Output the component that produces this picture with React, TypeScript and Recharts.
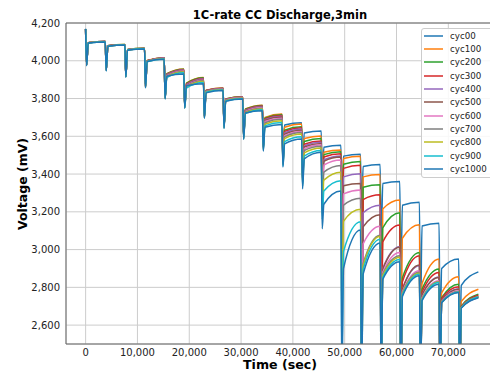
import React from "react";
import { LineChart, Line, XAxis, YAxis, CartesianGrid, ReferenceLine, Legend } from "recharts";

const FONT = "'DejaVu Sans', 'Liberation Sans', sans-serif";

const CYCLES = ["cyc00", "cyc100", "cyc200", "cyc300", "cyc400", "cyc500", "cyc600", "cyc700", "cyc800", "cyc900", "cyc1000"];
const COLORS = ["#1f77b4", "#ff7f0e", "#2ca02c", "#d62728", "#9467bd", "#8c564b", "#e377c2", "#7f7f7f", "#bcbd22", "#17becf", "#1f77b4"];

// start time of each 3 min pulse (sec) and end of the last rest
const PULSE_T = [0, 3790, 7580, 11370, 15160, 18950, 22740, 26530, 30320, 34110, 37900, 41690, 45480, 49270, 53060, 56850, 60640, 64430, 68220, 72010];
const END_T = 75800;
const PULSE_LEN = 180;
const KNEE_LAG = 500;

const X_TICKS = [0, 10000, 20000, 30000, 40000, 50000, 60000, 70000];
const Y_TICKS = [2600, 2800, 3000, 3200, 3400, 3600, 3800, 4000, 4200];

// voltage at start + at the end of every rest (mV)
const REST_00 = [4168, 4102, 4085, 4065, 4014, 3950, 3900, 3852, 3806, 3755, 3715, 3672, 3628, 3553, 3505, 3450, 3360, 3251, 3140, 2950, 2882];
const REST_100 = [4168, 4102, 4086, 4066, 4016, 3957, 3912, 3856, 3810, 3765, 3718, 3665, 3602, 3528, 3494, 3398, 3262, 3131, 2950, 2856, 2790];
const REST_200 = [4168, 4102, 4086, 4066, 4015, 3955, 3910, 3855, 3809, 3763, 3714, 3650, 3588, 3518, 3466, 3343, 3195, 2985, 2897, 2817, 2764];
const REST_300 = [4168, 4102, 4085, 4065, 4015, 3953, 3906, 3854, 3808, 3760, 3710, 3645, 3575, 3508, 3446, 3290, 3130, 2968, 2879, 2803, 2758];
const REST_400 = [4168, 4102, 4085, 4065, 4014, 3951, 3903, 3853, 3807, 3758, 3706, 3638, 3568, 3496, 3402, 3235, 3015, 2914, 2855, 2792, 2752];
const REST_500 = [4168, 4102, 4085, 4064, 4014, 3949, 3900, 3852, 3806, 3755, 3702, 3632, 3562, 3490, 3350, 3184, 3012, 2918, 2852, 2790, 2752];
const REST_600 = [4168, 4101, 4084, 4064, 4013, 3946, 3897, 3850, 3805, 3752, 3696, 3625, 3555, 3475, 3315, 3123, 2985, 2888, 2835, 2782, 2746];
const REST_700 = [4168, 4101, 4084, 4064, 4012, 3943, 3894, 3849, 3803, 3749, 3690, 3620, 3547, 3445, 3272, 3076, 2968, 2880, 2830, 2778, 2748];
const REST_800 = [4168, 4101, 4084, 4063, 4011, 3940, 3890, 3847, 3801, 3745, 3682, 3612, 3538, 3410, 3213, 3070, 2960, 2875, 2828, 2776, 2750];
const REST_900 = [4168, 4100, 4083, 4063, 4010, 3936, 3885, 3845, 3799, 3740, 3673, 3598, 3525, 3365, 3147, 3055, 2948, 2870, 2826, 2775, 2750];
const REST_1000 = [4170, 4100, 4083, 4062, 4008, 3930, 3878, 3842, 3797, 3735, 3663, 3586, 3515, 3310, 3104, 3035, 2935, 2861, 2817, 2773, 2745];

// lowest voltage at the end of every pulse (mV)
const DIP_00 = [3980, 3952, 3920, 3866, 3808, 3762, 3710, 3658, 3605, 3560, 3500, 3420, 3330, 3250, 3150, 3000, 2800, 2600, 2520, 2420];
const DIP_100 = [3979, 3951, 3919, 3865, 3807, 3760, 3708, 3656, 3602, 3552, 3485, 3400, 3300, 3220, 2400, 2250, 2250, 2250, 2250, 2250];
const DIP_200 = [3979, 3951, 3919, 3865, 3806, 3759, 3707, 3655, 3600, 3548, 3478, 3390, 3290, 3180, 2250, 2250, 2250, 2250, 2250, 2250];
const DIP_300 = [3978, 3950, 3918, 3864, 3805, 3758, 3706, 3653, 3598, 3545, 3472, 3380, 3280, 3150, 2250, 2250, 2250, 2250, 2250, 2250];
const DIP_400 = [3978, 3950, 3918, 3863, 3804, 3757, 3704, 3652, 3596, 3542, 3466, 3370, 3265, 3080, 2250, 2250, 2250, 2250, 2250, 2250];
const DIP_500 = [3977, 3949, 3917, 3862, 3803, 3756, 3703, 3650, 3594, 3540, 3462, 3365, 3255, 3000, 2250, 2250, 2250, 2250, 2250, 2250];
const DIP_600 = [3977, 3949, 3916, 3861, 3802, 3754, 3701, 3648, 3592, 3537, 3458, 3360, 3240, 2900, 2250, 2250, 2250, 2250, 2250, 2250];
const DIP_700 = [3976, 3948, 3916, 3860, 3801, 3753, 3700, 3647, 3590, 3533, 3454, 3355, 3215, 2780, 2250, 2250, 2250, 2250, 2250, 2250];
const DIP_800 = [3976, 3948, 3915, 3859, 3800, 3751, 3698, 3645, 3588, 3530, 3450, 3345, 3190, 2600, 2250, 2250, 2250, 2250, 2250, 2250];
const DIP_900 = [3975, 3947, 3914, 3858, 3799, 3750, 3697, 3643, 3586, 3526, 3444, 3335, 3160, 2400, 2250, 2250, 2250, 2250, 2250, 2250];
const DIP_1000 = [3974, 3946, 3913, 3857, 3797, 3748, 3695, 3641, 3583, 3521, 3437, 3322, 3110, 2250, 2250, 2250, 2250, 2250, 2250, 2250];

// voltage shortly after each pulse, early in the relaxation (mV)
const KNEE_00 = [4096, 4079, 4059, 3999, 3925, 3870, 3840, 3794, 3735, 3697, 3660, 3618, 3542, 3495, 3440, 3350, 3235, 3125, 2900, 2810];
const KNEE_100 = [4096, 4080, 4060, 4001, 3932, 3882, 3844, 3798, 3745, 3700, 3648, 3588, 3515, 3482, 3385, 3215, 3060, 2820, 2770, 2725];
const KNEE_200 = [4096, 4080, 4060, 4000, 3930, 3880, 3843, 3797, 3743, 3696, 3632, 3572, 3503, 3452, 3330, 3115, 2850, 2790, 2745, 2700];
const KNEE_300 = [4096, 4079, 4059, 4000, 3928, 3876, 3842, 3796, 3740, 3692, 3626, 3558, 3490, 3430, 3265, 3040, 2830, 2775, 2740, 2698];
const KNEE_400 = [4096, 4079, 4059, 3999, 3926, 3873, 3841, 3795, 3738, 3688, 3618, 3550, 3476, 3385, 3195, 2900, 2790, 2760, 2730, 2695];
const KNEE_500 = [4096, 4079, 4058, 3999, 3924, 3870, 3840, 3794, 3735, 3684, 3611, 3543, 3468, 3338, 3120, 2895, 2790, 2760, 2730, 2695];
const KNEE_600 = [4095, 4078, 4058, 3998, 3921, 3867, 3838, 3793, 3732, 3678, 3603, 3535, 3448, 3295, 3030, 2880, 2775, 2745, 2725, 2692];
const KNEE_700 = [4095, 4078, 4058, 3997, 3918, 3864, 3837, 3791, 3729, 3672, 3597, 3525, 3410, 3235, 2925, 2870, 2770, 2740, 2722, 2692];
const KNEE_800 = [4095, 4078, 4057, 3996, 3915, 3860, 3835, 3789, 3725, 3664, 3588, 3512, 3368, 3150, 2915, 2862, 2765, 2737, 2720, 2692];
const KNEE_900 = [4094, 4077, 4057, 3995, 3911, 3855, 3833, 3787, 3720, 3655, 3572, 3495, 3310, 2990, 2895, 2852, 2760, 2734, 2720, 2692];
const KNEE_1000 = [4094, 4077, 4056, 3996, 3918, 3868, 3830, 3785, 3723, 3648, 3560, 3480, 3240, 2900, 2870, 2842, 2752, 2730, 2718, 2690];

const SERIES = [
  [REST_00, DIP_00, KNEE_00],
  [REST_100, DIP_100, KNEE_100],
  [REST_200, DIP_200, KNEE_200],
  [REST_300, DIP_300, KNEE_300],
  [REST_400, DIP_400, KNEE_400],
  [REST_500, DIP_500, KNEE_500],
  [REST_600, DIP_600, KNEE_600],
  [REST_700, DIP_700, KNEE_700],
  [REST_800, DIP_800, KNEE_800],
  [REST_900, DIP_900, KNEE_900],
  [REST_1000, DIP_1000, KNEE_1000],
];

function buildPoints(rest: number[], dip: number[], knee: number[]) {
  const pts = [{ t: PULSE_T[0], v: rest[0] }];
  PULSE_T.forEach((t0, k) => {
    const next = k + 1 < PULSE_T.length ? PULSE_T[k + 1] : END_T;
    pts.push({ t: t0 + PULSE_LEN, v: dip[k] });
    pts.push({ t: t0 + KNEE_LAG, v: knee[k] });
    pts.push({ t: next, v: rest[k + 1] });
  });
  return pts;
}

const fmt = (v: number) => v.toLocaleString("en-US");

const LegendBox = () => (
  <div
    style={{
      border: "1px solid #cccccc",
      borderRadius: 3,
      background: "rgba(255,255,255,0.85)",
      padding: "0 0 1px 0",
      fontFamily: FONT,
      fontSize: 8.7,
      color: "#222",
      width: 90,
    }}
  >
    {CYCLES.map((name, i) => (
      <div key={name} style={{ display: "flex", alignItems: "center", height: 13.33 }}>
        <svg width={19} height={4} style={{ marginLeft: 2, marginRight: 7, flex: "none" }}>
          <line x1={0} y1={2} x2={19} y2={2} stroke={COLORS[i]} strokeWidth={1.5} />
        </svg>
        <span>{name}</span>
      </div>
    ))}
  </div>
);

export default function App() {
  return (
    <div style={{ position: "absolute", left: 0, top: 0, width: 490, height: 378, overflow: "hidden", background: "#fff" }}>
      <div
        style={{
          position: "absolute", left: 62, top: 8, width: 436, textAlign: "center",
          fontFamily: FONT, fontWeight: "bold", fontSize: 11.5, lineHeight: "14px", color: "#000",
        }}
      >
        1C-rate CC Discharge,3min
      </div>
      <LineChart width={510} height={378} margin={{ top: 23, right: 12, bottom: 0, left: 0 }}>
        <CartesianGrid stroke="#cccccc" strokeWidth={1} />
        <XAxis
          dataKey="t"
          type="number"
          domain={[-3790, 79590]}
          allowDataOverflow
          ticks={X_TICKS}
          interval={0}
          tickFormatter={fmt}
          height={34}
          tickSize={0}
          tickMargin={5}
          tick={{ fontSize: 10, fill: "#222", fontFamily: FONT }}
          axisLine={{ stroke: "#666", strokeWidth: 1 }}
          label={{
            content: () => (
              <text x={280} y={369} textAnchor="middle" fontFamily={FONT} fontWeight="bold" fontSize={12.6} fill="#000">
                Time (sec)
              </text>
            ),
          }}
        />
        <YAxis
          type="number"
          domain={[2500, 4200]}
          allowDataOverflow
          ticks={Y_TICKS}
          interval={0}
          tickFormatter={fmt}
          width={66}
          tickSize={0}
          tickMargin={6}
          tick={{ fontSize: 10, fill: "#222", fontFamily: FONT }}
          axisLine={{ stroke: "#666", strokeWidth: 1 }}
          label={{
            content: () => (
              <text x={26.5} y={184} transform="rotate(-90 26.5 184)" textAnchor="middle" fontFamily={FONT} fontWeight="bold" fontSize={12.5} fill="#000">
                Voltage (mV)
              </text>
            ),
          }}
        />
        <ReferenceLine y={4200} stroke="#666" strokeWidth={1} />
        {SERIES.map(([rest, dip, knee], i) => (
          <Line
            key={CYCLES[i]}
            name={CYCLES[i]}
            data={buildPoints(rest, dip, knee)}
            dataKey="v"
            type="monotone"
            stroke={COLORS[i]}
            strokeWidth={1.5}
            dot={false}
            isAnimationActive={false}
          />
        ))}
        <Legend
          layout="vertical"
          align="center"
          verticalAlign="middle"
          wrapperStyle={{ left: 421, top: 28, width: 92 }}
          content={() => <LegendBox />}
        />
      </LineChart>
    </div>
  );
}
